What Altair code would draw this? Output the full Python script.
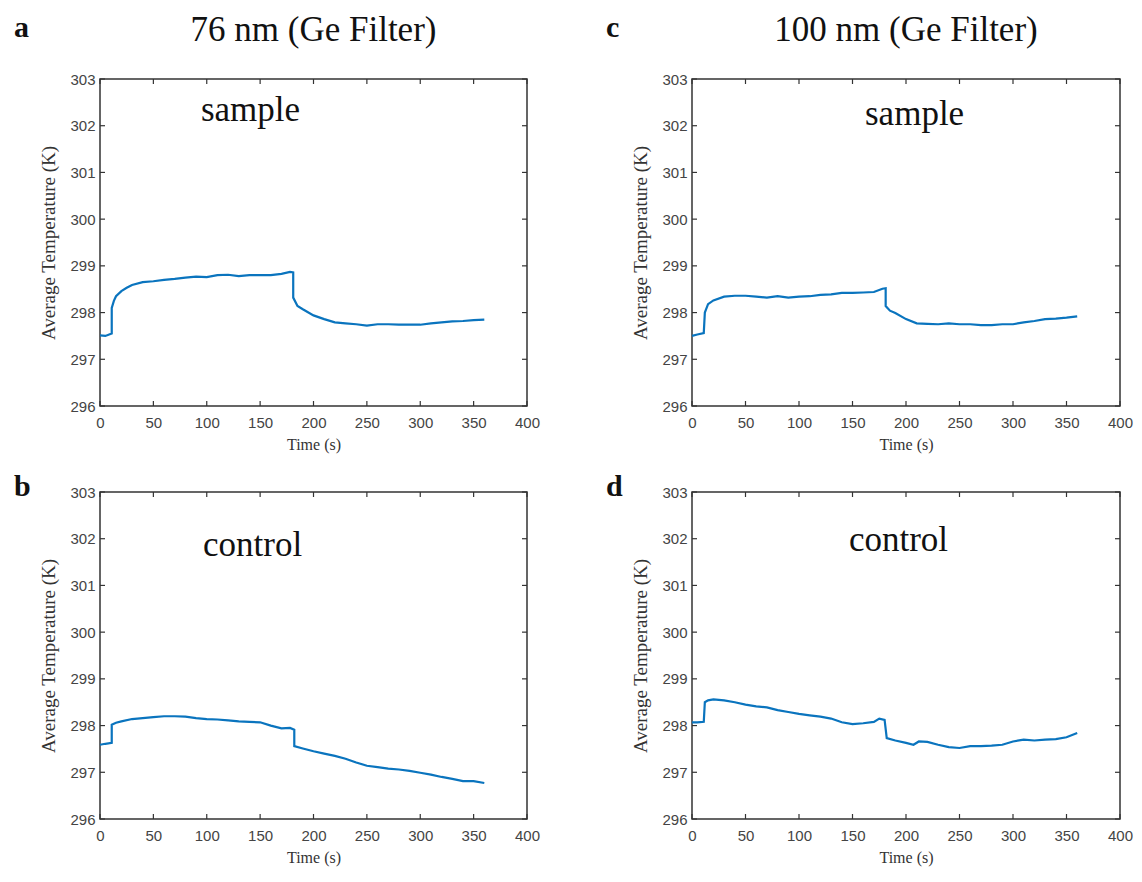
import altair as alt
import pandas as pd

# ---------------- data ----------------
x_ticks = [0, 50, 100, 150, 200, 250, 300, 350, 400]
y_ticks = [296, 297, 298, 299, 300, 301, 302, 303]

# a: 76 nm, sample
t_a = [0, 5, 11, 11, 13, 15, 20, 25, 30, 40, 50, 60, 70, 80, 90, 100, 110, 120, 130, 140, 150, 160, 170, 178,
       181, 181, 185, 190, 200, 210, 220, 230, 240, 250, 260, 270, 280, 290, 300, 310, 320, 330, 340, 350, 360]
v_a = [297.51, 297.50, 297.55, 298.10, 298.25, 298.35, 298.46, 298.53, 298.59, 298.65, 298.67, 298.70, 298.72,
       298.75, 298.77, 298.76, 298.80, 298.81, 298.78, 298.80, 298.80, 298.80, 298.83, 298.87,
       298.86, 298.32, 298.14, 298.07, 297.94, 297.86, 297.79, 297.77, 297.75, 297.72, 297.75, 297.75, 297.74,
       297.74, 297.74, 297.77, 297.79, 297.81, 297.82, 297.84, 297.85]

# c: 100 nm, sample
t_c = [0, 5, 11, 12, 15, 20, 30, 40, 50, 60, 70, 80, 90, 100, 110, 120, 130, 140, 150, 160, 170, 178,
       181, 181, 185, 190, 200, 210, 220, 230, 240, 250, 260, 270, 280, 290, 300, 310, 320, 330, 340, 350, 360]
v_c = [297.50, 297.53, 297.56, 298.00, 298.18, 298.26, 298.34, 298.36, 298.36, 298.34, 298.32, 298.35, 298.32,
       298.34, 298.35, 298.38, 298.39, 298.42, 298.42, 298.43, 298.44, 298.51,
       298.52, 298.14, 298.04, 297.99, 297.86, 297.77, 297.76, 297.75, 297.77, 297.75, 297.75, 297.73, 297.73,
       297.75, 297.75, 297.79, 297.82, 297.86, 297.87, 297.89, 297.92]

# b: 76 nm, control
t_b = [0, 5, 11, 11, 15, 20, 30, 40, 50, 60, 70, 80, 90, 100, 110, 120, 130, 140, 150, 160, 170, 178,
       182, 182, 190, 200, 210, 220, 230, 240, 250, 260, 270, 280, 290, 300, 310, 320, 330, 340, 350, 360]
v_b = [297.59, 297.61, 297.63, 298.02, 298.06, 298.09, 298.14, 298.16, 298.18, 298.20, 298.20, 298.19, 298.16,
       298.14, 298.13, 298.11, 298.09, 298.08, 298.07, 298.00, 297.94, 297.95,
       297.91, 297.56, 297.51, 297.45, 297.40, 297.35, 297.29, 297.21, 297.14, 297.11, 297.08, 297.06, 297.03,
       296.99, 296.95, 296.90, 296.86, 296.81, 296.81, 296.77]

# d: 100 nm, control
t_d = [0, 5, 11, 12, 15, 20, 30, 40, 50, 60, 70, 80, 90, 100, 110, 120, 130, 140, 150, 160, 170, 175, 180,
       182, 190, 200, 207, 212, 220, 230, 240, 250, 260, 270, 280, 290, 300, 310, 320, 330, 340, 350, 360]
v_d = [298.07, 298.07, 298.08, 298.50, 298.54, 298.56, 298.54, 298.50, 298.45, 298.41, 298.39, 298.33, 298.29,
       298.25, 298.22, 298.19, 298.15, 298.07, 298.03, 298.05, 298.08, 298.15, 298.12,
       297.73, 297.68, 297.63, 297.59, 297.66, 297.65, 297.59, 297.54, 297.52, 297.56, 297.56, 297.57, 297.59,
       297.66, 297.70, 297.68, 297.70, 297.71, 297.75, 297.84]

letters = ["a", "c", "b", "d"]
headings = ["76 nm (Ge Filter)", "100 nm (Ge Filter)", "", ""]
notes = ["sample", "sample", "control", "control"]
note_x = [141, 208, 143, 193]
note_y = [302.1, 302.02, 301.63, 301.73]

LINE = "#0A74BE"
SERIF = "Liberation Serif"
SANS = "Liberation Sans"
W1, W2, H = 427, 428, 327


def panel(t, v, w, h, letter, heading, nx, ny, note):
    df = pd.DataFrame({"t": t, "v": v, "i": list(range(len(t)))})
    xs = alt.Scale(domain=[0, 400], nice=False, zero=False)
    ys = alt.Scale(domain=[296, 303], nice=False, zero=False)
    x_axis = alt.Axis(values=x_ticks, title="Time (s)", ticks=False, grid=False, domain=False,
                      labelFlush=False, labelOverlap=False, labelPadding=9, titlePadding=6,
                      labelFont=SANS, labelFontSize=15, labelColor="#444",
                      titleFont=SERIF, titleFontSize=16, titleFontWeight="normal", titleColor="#333")
    y_axis = alt.Axis(values=y_ticks, title="Average Temperature (K)", ticks=False, grid=False, domain=False,
                      labelFlush=False, labelOverlap=False, labelPadding=5, titlePadding=11,
                      labelFont=SANS, labelFontSize=15, labelColor="#444",
                      titleFont=SERIF, titleFontSize=19, titleFontWeight="normal", titleColor="#333")
    X = lambda f: alt.X(f, scale=xs, axis=x_axis, title="Time (s)")
    Y = lambda f: alt.Y(f, scale=ys, axis=y_axis, title="Average Temperature (K)")
    line = alt.Chart(df).mark_line(color=LINE, strokeWidth=2.2).encode(
        x=X("t:Q"), y=Y("v:Q"), order="i:Q",
    )
    xt = pd.DataFrame({"t": x_ticks})
    yt = pd.DataFrame({"v": y_ticks})
    tick_style = dict(color="#333", strokeWidth=1.2)
    bx = alt.Chart(xt).mark_rule(**tick_style).encode(x=X("t:Q"), y=alt.value(h), y2=alt.value(h - 5))
    tx = alt.Chart(xt).mark_rule(**tick_style).encode(x=X("t:Q"), y=alt.value(0), y2=alt.value(5))
    ly = alt.Chart(yt).mark_rule(**tick_style).encode(y=Y("v:Q"), x=alt.value(0), x2=alt.value(5))
    ry = alt.Chart(yt).mark_rule(**tick_style).encode(y=Y("v:Q"), x=alt.value(w - 5), x2=alt.value(w))
    one = pd.DataFrame({"k": [0]})
    note_layer = alt.Chart(one).mark_text(font=SERIF, fontSize=35, align="center", baseline="alphabetic",
                                          color="#111").encode(
        x=alt.datum(nx, scale=xs), y=alt.datum(ny, scale=ys), text=alt.value(note))
    letter_layer = alt.Chart(one).mark_text(font=SERIF, fontSize=30, fontWeight="bold", align="left",
                                            baseline="alphabetic", color="#111").encode(
        x=alt.value(-86), y=alt.value(-42 if heading else 4), text=alt.value(letter))
    layers = [line, bx, tx, ly, ry, note_layer, letter_layer]
    if heading:
        head_layer = alt.Chart(one).mark_text(font=SERIF, fontSize=35, align="center", baseline="alphabetic",
                                              color="#111").encode(
            x=alt.value(w / 2), y=alt.value(-38), text=alt.value(heading))
        layers.append(head_layer)
    return alt.layer(*layers).properties(width=w, height=h)


pa = panel(t_a, v_a, W1, H, letters[0], headings[0], note_x[0], note_y[0], notes[0])
pc = panel(t_c, v_c, W2, H, letters[1], headings[1], note_x[1], note_y[1], notes[1])
pb = panel(t_b, v_b, W1, H, letters[2], headings[2], note_x[2], note_y[2], notes[2])
pd_ = panel(t_d, v_d, W2, H, letters[3], headings[3], note_x[3], note_y[3], notes[3])

chart = alt.concat(pa, pc, pb, pd_, columns=2, spacing={"row": 86, "column": 165}, bounds="flush").properties(
    padding={"left": 5, "top": 4, "right": 0, "bottom": 5},
    background="white",
).configure_view(stroke="#333", strokeWidth=1.5)

chart.save("out.html", embed_options={"renderer": "svg", "actions": False})
